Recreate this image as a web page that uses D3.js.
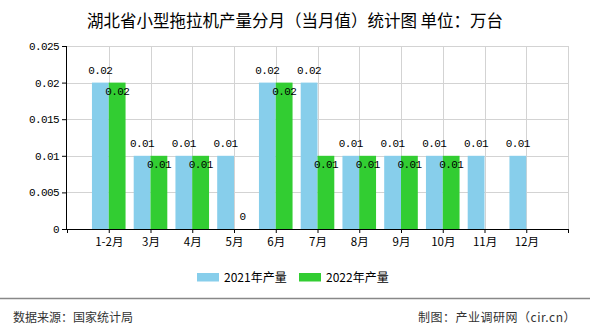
<!DOCTYPE html>
<html>
<head>
<meta charset="utf-8">
<script src="https://cdn.jsdelivr.net/npm/d3@7"></script>
<style>
  html, body { margin: 0; padding: 0; background: #fff; }
  svg { display: block; }
  .mono { font-family: "Liberation Mono", "DejaVu Sans Mono", monospace; }
  .cjk { font-family: "Noto Sans CJK SC", "Noto Sans", sans-serif; }
</style>
</head>
<body>
<script>
// Monthly small-tractor output, Hubei province (unit: 10,000 sets)
const months = ["1-2月", "3月", "4月", "5月", "6月", "7月", "8月", "9月", "10月", "11月", "12月"];
const values2021 = [0.02, 0.01, 0.01, 0.01, 0.02, 0.02, 0.01, 0.01, 0.01, 0.01, 0.01];
const values2022 = [0.02, 0.01, 0.01, 0, 0.02, 0.01, 0.01, 0.01, 0.01, null, null];
const seriesNames = ["2021年产量", "2022年产量"];
const yTicks = [0, 0.005, 0.01, 0.015, 0.02, 0.025];
const yTickLabels = ["0", "0.005", "0.01", "0.015", "0.02", "0.025"];

const W = 590, H = 330;
const plotL = 67, plotR = 568, plotT = 46, plotB = 229;
const colors = ["#87CEEB", "#32CD32"];

const svg = d3.select("body").append("svg").attr("width", W).attr("height", H);

// category slots: index 1..11 hold the months, slot 12 stays empty
const x = d3.scaleLinear().domain([0, 12]).range([plotL, plotR]);
const y = d3.scaleLinear().domain([0, 0.025]).range([plotB, plotT]);
const barW = 16.8;

// grid
const grid = svg.append("g").attr("stroke", "#d3d3d3").attr("stroke-width", 1);
grid.selectAll("line.h").data(yTicks.slice(1)).join("line")
  .attr("x1", plotL).attr("x2", plotR)
  .attr("y1", d => Math.round(y(d)) + 0.5).attr("y2", d => Math.round(y(d)) + 0.5);
grid.selectAll("line.v").data(d3.range(1, 13)).join("line")
  .attr("y1", plotT).attr("y2", plotB)
  .attr("x1", d => Math.round(x(d)) + 0.5).attr("x2", d => Math.round(x(d)) + 0.5);

// bars
const series = [values2021, values2022];
series.forEach((vals, s) => {
  const g = svg.append("g");
  vals.forEach((v, i) => {
    if (v === null) return;
    const cx = x(i + 1);
    const x0 = s === 0 ? cx - barW : cx;
    g.append("rect")
      .attr("x", x0).attr("width", barW)
      .attr("y", y(v)).attr("height", y(0) - y(v))
      .attr("fill", colors[s]);
  });
});

// value labels
series.forEach((vals, s) => {
  const g = svg.append("g").attr("class", "mono").attr("font-size", 11).attr("fill", "#000")
    .attr("text-anchor", "middle").attr("letter-spacing", "-0.6");
  vals.forEach((v, i) => {
    if (v === null) return;
    const cx = x(i + 1) + (s === 0 ? -barW / 2 : barW / 2);
    const h = y(0) - y(v);
    let ty;
    if (s === 0 || h < 14) ty = y(v) - 9;
    else ty = y(v) + 12;
    g.append("text").attr("x", cx).attr("y", ty).text(String(v));
  });
});

// y axis
const yAxis = svg.append("g").attr("transform", `translate(${plotL},0)`)
  .call(d3.axisLeft(y).tickValues(yTicks).tickSize(5).tickPadding(3)
    .tickFormat((d, i) => yTickLabels[i]));
yAxis.select(".domain").attr("d", `M-0.5,${plotT}V${plotB}`).attr("stroke", "#000");
yAxis.selectAll(".tick line").attr("stroke", "#000");
yAxis.selectAll("text").attr("class", "mono").attr("font-size", 11).attr("fill", "#000")
  .attr("letter-spacing", "-0.6");
yAxis.attr("font-family", null);

// x axis
const xAxis = svg.append("g").attr("transform", `translate(0,${plotB})`)
  .call(d3.axisBottom(x).tickValues(d3.range(0, 13)).tickSize(4).tickPadding(5)
    .tickFormat(i => months[i - 1] || ""));
xAxis.select(".domain").attr("d", `M${plotL},0.5H${plotR}`).attr("stroke", "#000");
xAxis.selectAll(".tick line").attr("stroke", "#000");
xAxis.selectAll("text").attr("class", "cjk").attr("font-size", 11.5).attr("fill", "#000");
xAxis.attr("font-family", null);

// title
svg.append("text").attr("class", "cjk")
  .attr("x", 295).attr("y", 27).attr("text-anchor", "middle")
  .attr("font-size", 16.5).attr("fill", "#000")
  .text("湖北省小型拖拉机产量分月（当月值）统计图 单位：万台");

// legend
const legendX = [197, 299];
seriesNames.forEach((name, s) => {
  svg.append("rect").attr("x", legendX[s]).attr("y", 273).attr("width", 22).attr("height", 8.5)
    .attr("fill", colors[s]);
  svg.append("text").attr("class", "cjk").attr("x", legendX[s] + 27).attr("y", 281.5)
    .attr("font-size", 12).attr("fill", "#000").text(name);
});

// footer
svg.append("line").attr("x1", 0).attr("x2", W).attr("y1", 298.5).attr("y2", 298.5)
  .attr("stroke", "#888").attr("stroke-width", 1.3);
svg.append("text").attr("class", "cjk").attr("x", 13).attr("y", 322)
  .attr("font-size", 12).attr("fill", "#333").text("数据来源：国家统计局");
svg.append("text").attr("class", "cjk").attr("x", 576).attr("y", 322).attr("text-anchor", "end")
  .attr("font-size", 12).attr("fill", "#333").attr("letter-spacing", "0.5")
  .text("制图：产业调研网（cir.cn）");
</script>
</body>
</html>
